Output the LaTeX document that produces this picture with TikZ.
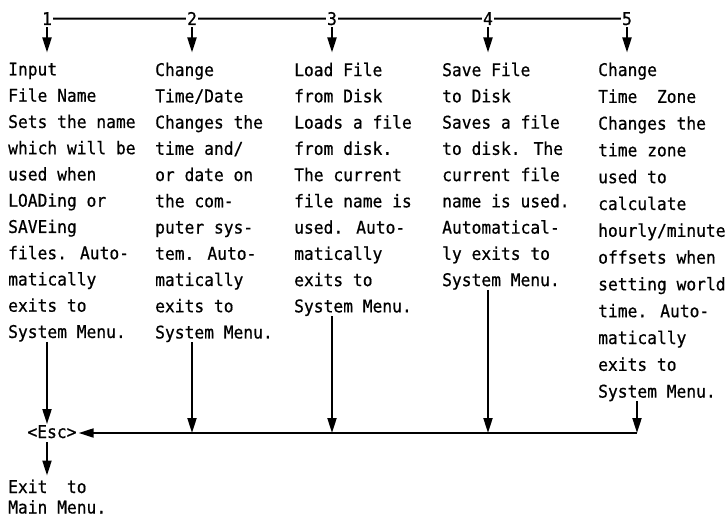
\documentclass[tikz,border=0pt]{standalone}
\usepackage{fontspec}
\newfontfamily\mono[FakeStretch=0.93,FakeBold=0.6]{DejaVu Sans Mono}
\usetikzlibrary{arrows.meta}
\begin{document}
\begin{tikzpicture}[x=1pt,y=-1pt,
  txt/.style={font=\mono\fontsize{17.5}{26.25}\selectfont, align=left, anchor=north west, inner sep=0pt},
  txtwide/.style={txt, font=\mono\fontsize{17.5}{26.8}\selectfont},
  txttight/.style={txt, font=\mono\fontsize{17.5}{20.5}\selectfont},
  num/.style={font=\mono\fontsize{17.5}{21}\selectfont, anchor=base, inner sep=1pt},
  rail/.style={line width=2pt},
  arr/.style={line width=2pt, -{Triangle[length=15pt,width=9pt]}}]
\useasboundingbox (0,0) rectangle (728,519);
% numbers
\node[num] (n1) at (47,25) {1};
\node[num] (n2) at (192,25) {2};
\node[num] (n3) at (332,25) {3};
\node[num] (n4) at (488,25) {4};
\node[num] (n5) at (627,25) {5};
\draw[rail] (n1.east) -- (n2.west) (n2.east) -- (n3.west) (n3.east) -- (n4.west) (n4.east) -- (n5.west);
% columns
\node[txt] (c1) at (8,62.5) {Input\\File Name\\Sets the name\\which will be\\used when\\LOADing or\\SAVEing\\files. Auto-\\matically\\exits to\\System Menu.};
\node[txt] (c2) at (155,62.5) {Change\\Time/Date\\Changes the\\time and/\\or date on\\the com-\\puter sys-\\tem. Auto-\\matically\\exits to\\System Menu.};
\node[txt] (c3) at (294,62.5) {Load File\\from Disk\\Loads a file\\from disk.\\The current\\file name is\\used. Auto-\\matically\\exits to\\System Menu.};
\node[txt] (c4) at (442,62.5) {Save File\\to Disk\\Saves a file\\to disk. The\\current file\\name is used.\\Automatical-\\ly exits to\\System Menu.};
\node[txtwide] (c5) at (598,62.5) {Change\\Time\ \ Zone\\Changes the\\time zone\\used to\\calculate\\hourly/minute\\offsets when\\setting world\\time. Auto-\\matically\\exits to\\System Menu.};
% top arrows
\foreach \i in {1,...,5}{
  \draw[arr, shorten <=1pt, shorten >=10pt] (n\i.south) -- (n\i.south |- c\i.north);
}
% bottom
\coordinate (r) at (637,433);
\node[num] (esc) at (52,438) {<Esc>};
\node[txttight] (ex) at (8,479.5) {Exit\ \ to\\Main Menu.};
\draw[arr] (c1.south -| n1) -- (esc.north -| n1);
\draw[arr] (c2.south -| n2) -- (n2 |- r);
\draw[arr] (c3.south -| n3) -- (n3 |- r);
\draw[arr] (c4.south -| n4) -- (n4 |- r);
\draw[arr] (c5.south -| r) -- (r);
\draw[arr, shorten >=1pt] (r) -- (esc.east |- r);
\draw[arr, shorten <=3pt, shorten >=4pt] (esc.south -| n1) -- (ex.north -| n1);
\end{tikzpicture}
\end{document}
